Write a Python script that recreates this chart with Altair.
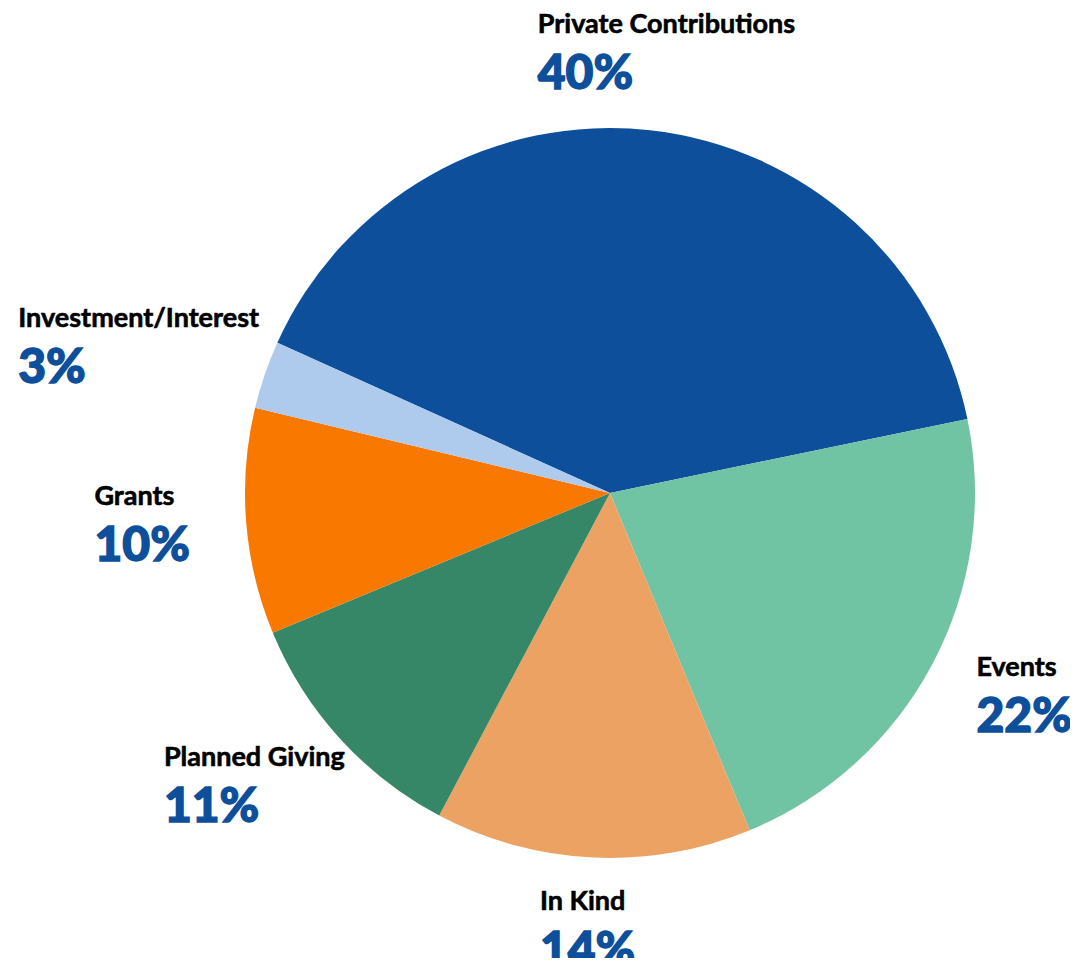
import altair as alt
import pandas as pd

categories = ["Private Contributions", "Events", "In Kind", "Planned Giving", "Grants", "Investment/Interest"]
values = [40, 22, 14, 11, 10, 3]
colors = ["#0D4F9B", "#70C4A4", "#EBA263", "#358767", "#F97800", "#AECBEE"]

df = pd.DataFrame({"category": categories, "value": values, "order": list(range(len(categories)))})

start = 5.1365
theta_scale = alt.Scale(range=[start, start + 6.283185])

CX, CY = 602, 485
RX, RY = 445, 440
LCY = CY - 6

pie = alt.Chart(df).mark_arc(outerRadius=365, stroke=None).encode(
    theta=alt.Theta("value:Q", stack=True, scale=theta_scale),
    order=alt.Order("order:Q"),
    x=alt.value(CX),
    y=alt.value(CY),
    color=alt.Color("category:N", scale=alt.Scale(domain=categories, range=colors), legend=None),
)

lab = alt.Chart(df).transform_window(
    cum="sum(value)", sort=[alt.SortField("order")], frame=[None, 0]
).transform_joinaggregate(total="sum(value)").transform_calculate(
    mid=f"{start} + 2*PI*(datum.cum - datum.value/2)/datum.total",
    pct="format(datum.value, 'd') + '%'",
).transform_calculate(
    lx=f"{CX} + {RX}*sin(datum.mid)",
    ly=f"{LCY} - {RY}*cos(datum.mid)",
    bw="max(length(datum.category)*12.2, length(datum.pct)*32)",
)

shift = alt.ExprRef(expr="-datum.bw*(0.5 - 0.25*sin(datum.mid))")

names = lab.mark_text(
    align="left", baseline="middle", font="Lato", fontWeight="bold",
    fontSize=27, color="#000000", stroke="#000000", strokeWidth=0.6, dy=-25, dx=shift,
).encode(x=alt.X("lx:Q", scale=None), y=alt.Y("ly:Q", scale=None), text="category:N")

pcts = lab.mark_text(
    align="left", baseline="middle", font="Lato", fontWeight=900,
    fontSize=48, color="#0D4F9B", stroke="#0D4F9B", strokeWidth=1.4, dy=25, dx=shift,
).encode(x=alt.X("lx:Q", scale=None), y=alt.Y("ly:Q", scale=None), text="pct:N")

chart = alt.layer(pie, names, pcts).properties(
    width=1062, height=950, padding=0, autosize="none"
).configure_view(stroke=None)

chart.save("out.html", embed_options={"renderer": "svg", "actions": False})
